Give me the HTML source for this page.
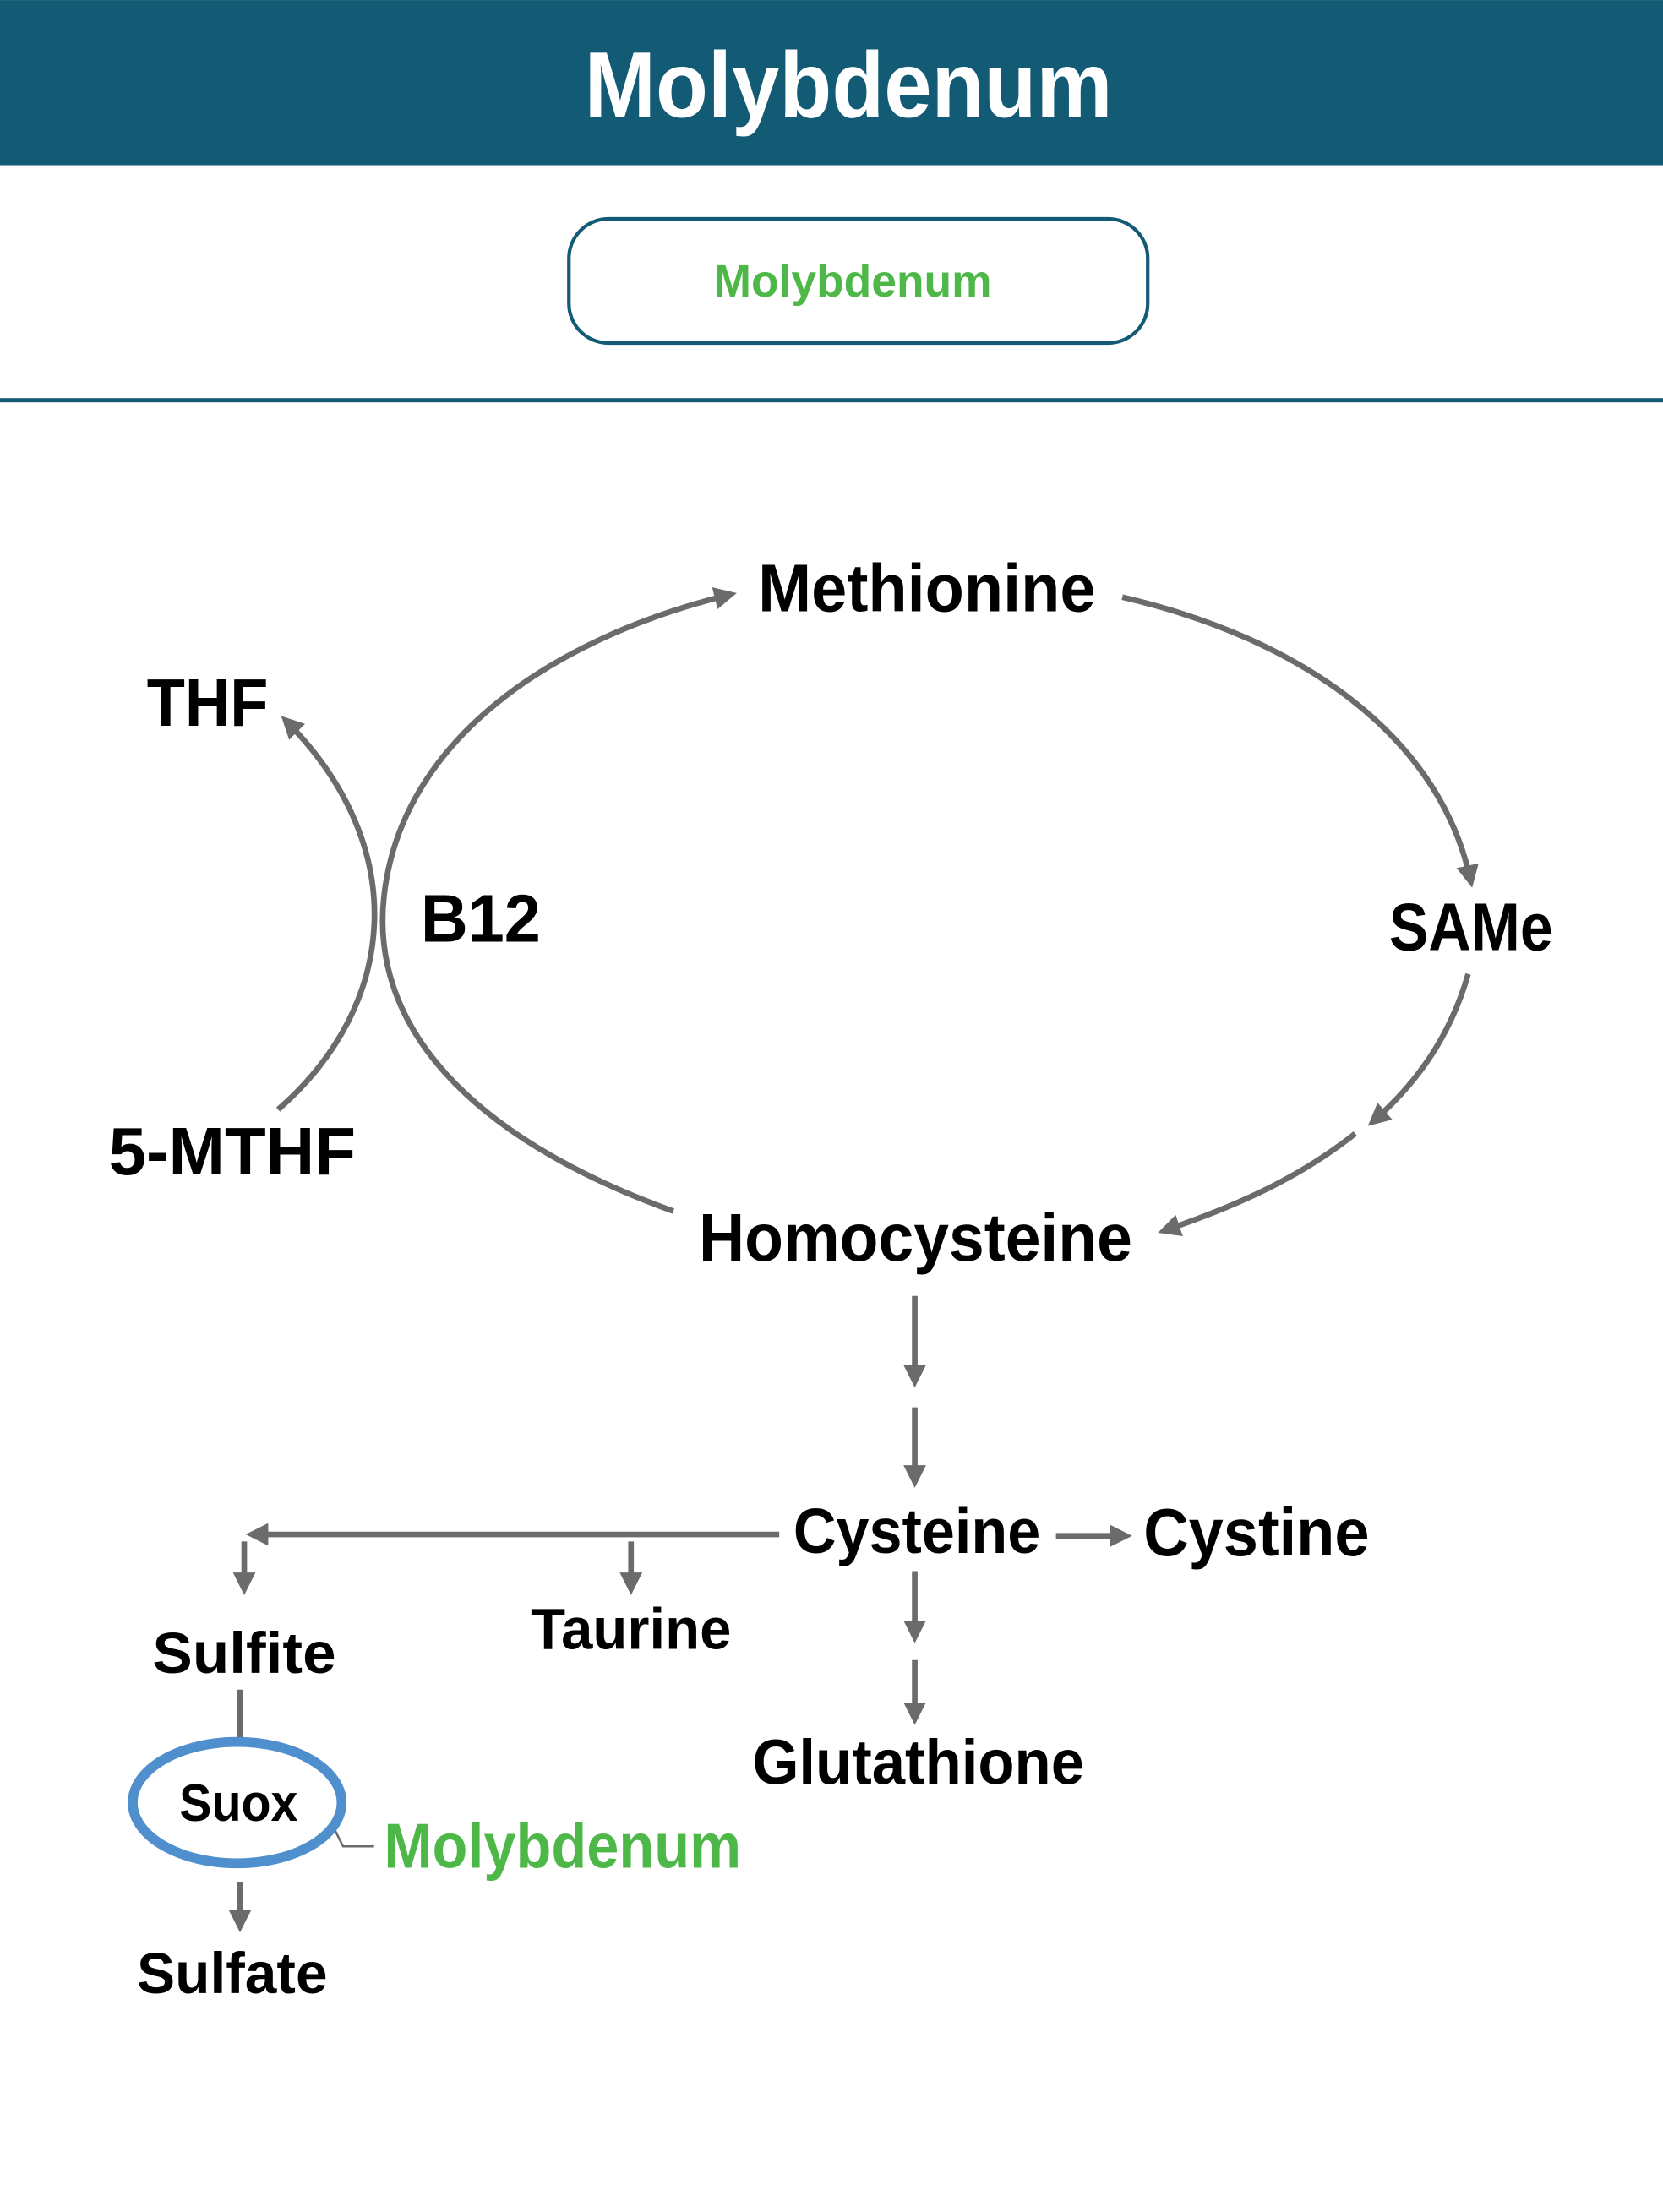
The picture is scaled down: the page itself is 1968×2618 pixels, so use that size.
<!DOCTYPE html>
<html><head><meta charset="utf-8"><style>
html,body{margin:0;padding:0;background:#fff}
svg{display:block}
text{font-family:"Liberation Sans",sans-serif;font-weight:bold}
</style></head><body>
<svg width="1968" height="2618" viewBox="0 0 1178 1567" xmlns="http://www.w3.org/2000/svg">
<defs>
<marker id="a" markerWidth="4" markerHeight="4" refX="3" refY="2" orient="auto" markerUnits="strokeWidth">
<path d="M0,0 L4,2 L0,4 Z" fill="#6b6b6b"/>
</marker>
</defs>
<rect x="0" y="0" width="1178" height="117" fill="#135a75"/>
<text x="601" y="83" text-anchor="middle" font-size="66" fill="#fff" textLength="374" lengthAdjust="spacingAndGlyphs">Molybdenum</text>
<rect x="403" y="155" width="410" height="88" rx="28" fill="#fff" stroke="#135a75" stroke-width="2.5"/>
<text x="604" y="210" text-anchor="middle" font-size="32" fill="#4db848" textLength="197" lengthAdjust="spacingAndGlyphs">Molybdenum</text>
<rect x="0" y="282" width="1178" height="3" fill="#135a75"/>

<g fill="none" stroke="#6b6b6b" stroke-width="4">
<path d="M477,858 C330,805 262,725 272,635 C284,525 390,452 518,421" marker-end="url(#a)"/>
<path d="M795,423 C920,452 1020,520 1042,625" marker-end="url(#a)"/>
<path d="M1040,690 C1027,735 1003,768 972,795" marker-end="url(#a)"/>
<path d="M960,803 C922,833 880,853 824,872" marker-end="url(#a)"/>
<path d="M197,786 C282,712 292,600 202,510" marker-end="url(#a)"/>
<path d="M648,918 V979" marker-end="url(#a)"/>
<path d="M648,997 V1050" marker-end="url(#a)"/>
<path d="M648,1113 V1160" marker-end="url(#a)"/>
<path d="M648,1176 V1218" marker-end="url(#a)"/>
<path d="M552,1087 H178" marker-end="url(#a)"/>
<path d="M173,1092 V1126" marker-end="url(#a)"/>
<path d="M447,1092 V1126" marker-end="url(#a)"/>
<path d="M748,1088 H798" marker-end="url(#a)"/>
<path d="M170,1197 V1232"/>
<path d="M170,1333 V1365" marker-end="url(#a)"/>
</g>
<path d="M237,1296 L243,1308 H265" fill="none" stroke="#6b6b6b" stroke-width="1.5"/>
<ellipse cx="168" cy="1277" rx="74" ry="43" fill="#fff" stroke="#4f8fcd" stroke-width="7"/>

<g font-size="48" fill="#000">
<text x="537" y="433" textLength="239" lengthAdjust="spacingAndGlyphs">Methionine</text>
<text x="104" y="514" textLength="86" lengthAdjust="spacingAndGlyphs">THF</text>
<text x="298" y="667" textLength="85" lengthAdjust="spacingAndGlyphs">B12</text>
<text x="984" y="673" textLength="116" lengthAdjust="spacingAndGlyphs">SAMe</text>
<text x="77" y="832" textLength="175" lengthAdjust="spacingAndGlyphs">5-MTHF</text>
<text x="495" y="893" textLength="307" lengthAdjust="spacingAndGlyphs">Homocysteine</text>
<text x="562" y="1100" font-size="45" textLength="175" lengthAdjust="spacingAndGlyphs">Cysteine</text>
<text x="810" y="1102" textLength="160" lengthAdjust="spacingAndGlyphs">Cystine</text>
<text x="376" y="1168" font-size="41" textLength="142" lengthAdjust="spacingAndGlyphs">Taurine</text>
<text x="108" y="1185" font-size="41" textLength="130" lengthAdjust="spacingAndGlyphs">Sulfite</text>
<text x="533" y="1264" font-size="45" textLength="235" lengthAdjust="spacingAndGlyphs">Glutathione</text>
<text x="127" y="1290" font-size="37" textLength="84" lengthAdjust="spacingAndGlyphs">Suox</text>
<text x="97" y="1412" font-size="41" textLength="135" lengthAdjust="spacingAndGlyphs">Sulfate</text>
<text x="272" y="1323" font-size="45" fill="#4db848" textLength="253" lengthAdjust="spacingAndGlyphs">Molybdenum</text>
</g>
</svg>
</body></html>
